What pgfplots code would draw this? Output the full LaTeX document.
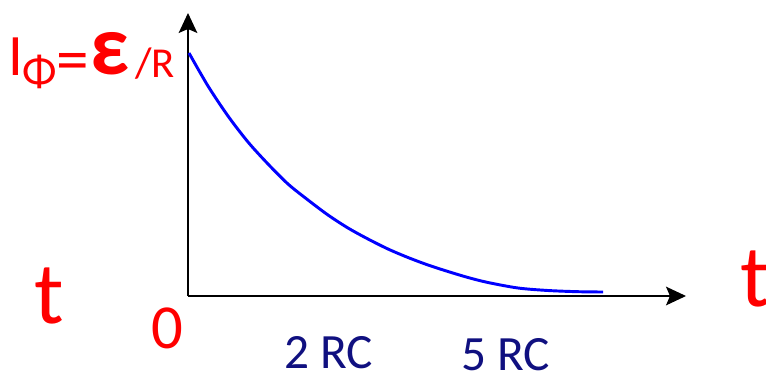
\documentclass[border=0pt]{standalone}
\usepackage{pgfplots}
\pgfplotsset{compat=1.18}
\usepackage{fontspec}
\setmainfont{Carlito}
\usetikzlibrary{arrows.meta}
\definecolor{navy}{RGB}{16,16,128}
\definecolor{myred}{RGB}{255,0,0}
\begin{document}
\begin{tikzpicture}
\path[use as bounding box] (-141pt,-59.25pt) rectangle (433.5pt,222pt);
\begin{axis}[
  at={(0,0)}, anchor=south west,
  scale only axis, width=373.5pt, height=212.25pt,
  xmin=0, xmax=498, ymin=0, ymax=283,
  axis lines=left,
  axis line style={line width=1pt, -{Stealth[length=15pt,width=14pt,inset=3pt]}},
  xtick=\empty, ytick=\empty, clip=false]
\addplot[blue, line width=2.2pt, smooth] coordinates {
(1,243) (20,210) (40,180) (60,154) (80,132) (100,112) (120,96) (140,81) (160,68) (180,57) (200,47) (220,38.5) (240,31) (260,24.5) (280,18.5) (300,13.5) (330,8) (360,5.5) (390,4.3) (415,4)};
\node[myred, anchor=center, inner sep=0pt, font=\fontsize{44}{44}\selectfont] at (axis cs:-172,239.5) {I};
\node[myred, anchor=center, inner sep=0pt, font=\fontsize{34}{34}\selectfont] at (axis cs:-148,224.5) {Φ};
\node[myred, anchor=center, inner sep=0pt, font=\fontsize{49}{49}\selectfont] at (axis cs:-115,229) {=};
\node[myred, anchor=center, inner sep=0pt, font=\fontsize{64}{64}\selectfont\bfseries] at (axis cs:-78,242) {ε};
\node[myred, anchor=base west, inner sep=0pt, font=\fontsize{32}{32}\selectfont] at (axis cs:-53,219) {/R};
\node[myred, anchor=center, inner sep=0pt, font=\fontsize{66}{66}\selectfont] at (axis cs:-138.5,0) {t};
\node[myred, anchor=center, inner sep=0pt, font=\fontsize{66}{66}\selectfont] at (axis cs:567.5,17) {t};
\node[myred, anchor=center, inner sep=0pt, font=\fontsize{47}{47}\selectfont] at (axis cs:-20.5,-32) {0};
\node[navy, anchor=center, inner sep=0pt, font=\fontsize{37}{37}\selectfont] at (axis cs:140.5,-56.5) {2 RC};
\node[navy, anchor=center, inner sep=0pt, font=\fontsize{37}{37}\selectfont] at (axis cs:317.5,-59) {5 RC};
\end{axis}
\end{tikzpicture}
\end{document}
